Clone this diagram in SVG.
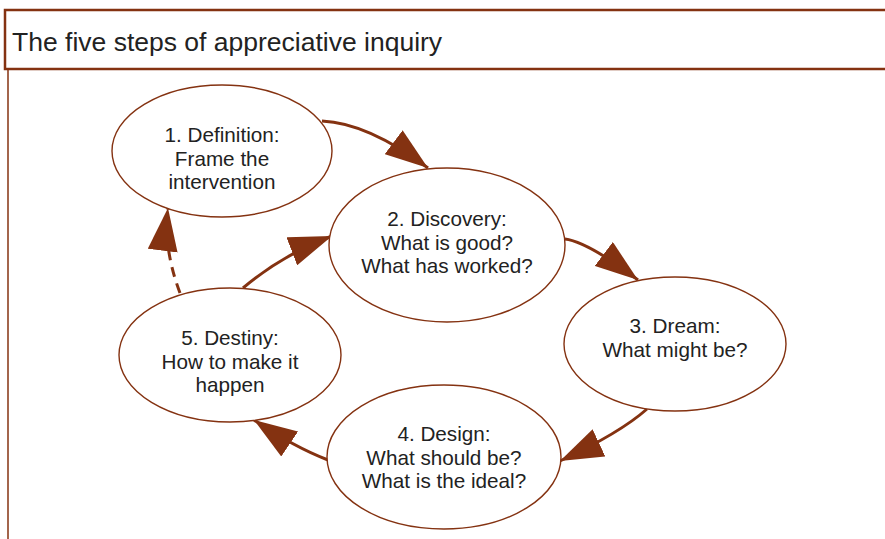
<svg xmlns="http://www.w3.org/2000/svg" width="885" height="539" viewBox="0 0 885 539">
<style>
.frame{fill:#fff;stroke:#843211;stroke-width:2.5}
.side{stroke:#843211;stroke-width:1.5;fill:none}
.title{font-family:"Liberation Sans",Arial,sans-serif;font-size:26.5px;fill:#222}
.node ellipse{fill:#fff;stroke:#843211;stroke-width:1.4}
.node text{font-family:"Liberation Sans",Arial,sans-serif;font-size:20.7px;fill:#222;text-anchor:middle}
.conn path{fill:none;stroke:#843211;stroke-width:3;marker-end:url(#ah)}
.conn .dash{stroke-dasharray:10 7}
</style>
<defs>
<marker id="ah" viewBox="0 0 43 30" refX="43" refY="15" markerUnits="userSpaceOnUse" markerWidth="43" markerHeight="30" orient="auto">
<path d="M0,0 L43,15 L0,30 z" fill="#843211"/>
</marker>
</defs>
<rect width="885" height="539" fill="#fff"/>
<g id="header">
<rect class="frame" x="5" y="10" width="890" height="59"/>
<line class="side" x1="8" y1="69" x2="8" y2="539"/>
<text class="title" x="12" y="51">The five steps of appreciative inquiry</text>
</g>
<g id="connectors" class="conn">
<path d="M322,121 Q368,123 428,168"/>
<path d="M565,239 Q588,242 638,280"/>
<path d="M647,409 Q620,433 560,461"/>
<path d="M328,460 Q294,447 254,420"/>
<path d="M243,288 Q282,255 332,236"/>
<path class="dash" d="M180,293 Q163,248 168,208"/>
</g>
<g id="n1" class="node">
<ellipse cx="222" cy="151" rx="110" ry="66"/>
<text x="222" y="142">1. Definition:</text>
<text x="222" y="165.5">Frame the</text>
<text x="222" y="189">intervention</text>
</g>
<g id="n2" class="node">
<ellipse cx="447" cy="245" rx="118" ry="77"/>
<text x="447" y="226">2. Discovery:</text>
<text x="447" y="249.5">What is good?</text>
<text x="447" y="273">What has worked?</text>
</g>
<g id="n3" class="node">
<ellipse cx="675" cy="344" rx="111" ry="67"/>
<text x="675" y="333">3. Dream:</text>
<text x="675" y="357">What might be?</text>
</g>
<g id="n4" class="node">
<ellipse cx="444" cy="457" rx="117" ry="72"/>
<text x="444" y="441">4. Design:</text>
<text x="444" y="464.5">What should be?</text>
<text x="444" y="488">What is the ideal?</text>
</g>
<g id="n5" class="node">
<ellipse cx="230" cy="355" rx="111" ry="67"/>
<text x="230" y="345">5. Destiny:</text>
<text x="230" y="368.5">How to make it</text>
<text x="230" y="392">happen</text>
</g>
</svg>
